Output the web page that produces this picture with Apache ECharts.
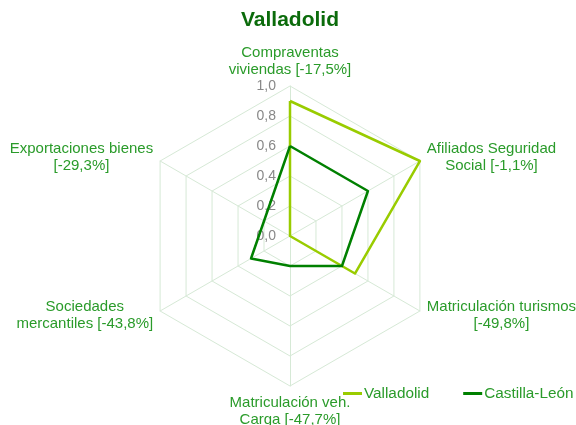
<!DOCTYPE html>
<html>
<head>
<meta charset="utf-8">
<script src="https://cdn.jsdelivr.net/npm/echarts@6/dist/echarts.min.js"></script>
<style>
html, body { margin: 0; padding: 0; background: #fff; }
#chart { width: 576px; height: 425px; }
</style>
</head>
<body>
<div id="chart"></div>
<script>
// indicadores en el orden de Excel (sentido horario desde arriba)
const indicatorNames = [
  'Compraventas\nviviendas [-17,5%]',
  'Afiliados Seguridad\nSocial [-1,1%]',
  'Matriculación turismos\n[-49,8%]',
  'Matriculación veh.\nCarga [-47,7%]',
  'Sociedades\nmercantiles [-43,8%]',
  'Exportaciones bienes\n[-29,3%]'
]
const valladolid = [0.9, 1.0, 0.5, 0, 0, 0]
const castillaLeon = [0.6, 0.6, 0.4, 0.2, 0.3, 0.2]

const labelColor = '#2a9b2a'
const fontFamily = '"Liberation Sans", Arial, sans-serif'

// echarts coloca los ejes en sentido antihorario
const ccw = (a) => [a[0], ...a.slice(1).reverse()]

const chart = echarts.init(document.getElementById('chart'))

const option = {
  backgroundColor: '#fff',
  title: {
    text: 'Valladolid',
    left: 290,
    textAlign: 'center',
    top: 10,
    padding: 0,
    textStyle: {
      color: '#0b6b0b',
      fontSize: 21,
      fontWeight: 'bold',
      fontFamily: fontFamily
    }
  },
  legend: {
    left: 343,
    top: 386,
    padding: 0,
    itemWidth: 19,
    itemHeight: 3,
    itemGap: 34,
    icon: 'rect',
    data: ['Valladolid', 'Castilla-León'],
    textStyle: {
      color: labelColor,
      fontSize: 15.3,
      fontFamily: fontFamily,
      padding: [0, 0, 0, -3]
    }
  },
  radar: {
    center: [290, 236],
    radius: 150,
    startAngle: 90,
    shape: 'polygon',
    splitNumber: 5,
    indicator: ccw(indicatorNames).map((n, i) => {
      const ind = { name: n, min: 0, max: 1 }
      if (i === 0) ind.axisLabel = { show: true }
      return ind
    }),
    axisNameGap: 8,
    axisName: {
      color: labelColor,
      fontSize: 15,
      fontFamily: fontFamily,
      formatter: (name) => name.split('\n').map((l) => '{c|' + l + '}').join('\n'),
      rich: {
        c: {
          align: 'center',
          color: labelColor,
          fontSize: 15,
          lineHeight: 17,
          fontFamily: fontFamily
        }
      }
    },
    splitLine: { lineStyle: { color: '#d6e9d6', width: 1 } },
    splitArea: { show: false },
    axisLine: { lineStyle: { color: '#d6e9d6', width: 1 } },
    axisTick: { show: false },
    axisLabel: {
      show: false,
      color: '#888888',
      fontSize: 14,
      fontFamily: fontFamily,
      margin: 14,
      formatter: (v) => v.toFixed(1).replace('.', ',')
    }
  },
  series: [
    {
      type: 'radar',
      symbol: 'none',
      data: [
        {
          name: 'Valladolid',
          value: ccw(valladolid),
          lineStyle: { color: '#99cc00', width: 2.5 },
          itemStyle: { color: '#99cc00' }
        },
        {
          name: 'Castilla-León',
          value: ccw(castillaLeon),
          lineStyle: { color: '#008000', width: 2.5 },
          itemStyle: { color: '#008000' }
        }
      ]
    }
  ]
}

chart.setOption(option)
</script>
</body>
</html>
